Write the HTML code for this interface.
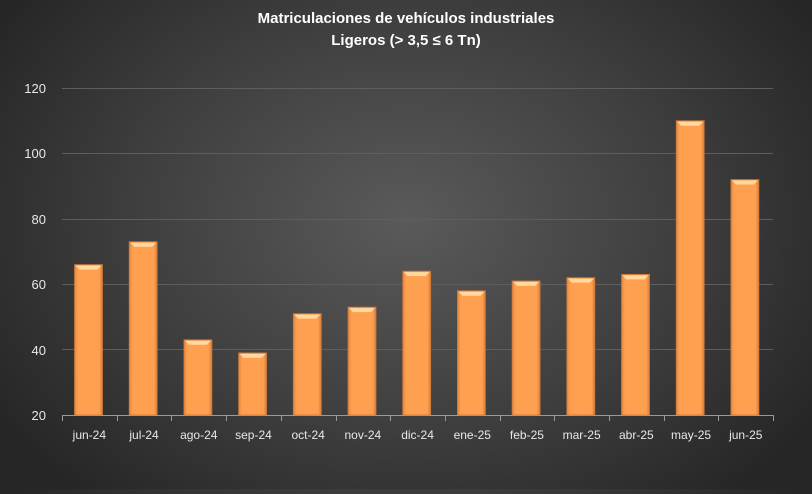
<!DOCTYPE html>
<html><head><meta charset="utf-8"><style>
html,body{margin:0;padding:0}
body{width:812px;height:489px;overflow:hidden;background:radial-gradient(ellipse 60% 75% at 50% 45%,#5a5a5a 0%,#3f3f3f 55%,#262626 100%);font-family:"Liberation Sans",sans-serif}
</style></head><body>
<svg width="812" height="489" xmlns="http://www.w3.org/2000/svg" font-family="Liberation Sans, DejaVu Sans, sans-serif">
<defs>
<linearGradient id="b" x1="0" x2="1" y1="0" y2="0">
<stop offset="0" stop-color="#e08840"/><stop offset="0.12" stop-color="#ff9f50"/><stop offset="0.88" stop-color="#ff9f50"/><stop offset="1" stop-color="#d98038"/>
</linearGradient>
</defs>
<text x="406" y="23" fill="#fff" font-size="15" font-weight="bold" text-anchor="middle">Matriculaciones de vehículos industriales</text>
<text x="406" y="45" fill="#fff" font-size="15" font-weight="bold" text-anchor="middle">Ligeros (&gt; 3,5 ≤ 6 Tn)</text>
<g stroke="#5e5e5e" stroke-width="1">
<line x1="62" x2="773" y1="88.5" y2="88.5"/><line x1="62" x2="773" y1="153.5" y2="153.5"/><line x1="62" x2="773" y1="219.5" y2="219.5"/><line x1="62" x2="773" y1="284.5" y2="284.5"/><line x1="62" x2="773" y1="349.5" y2="349.5"/>
</g>
<g fill="#e8e8e8" font-size="13" text-anchor="end">
<text x="46" y="420">20</text><text x="46" y="355">40</text><text x="46" y="289">60</text><text x="46" y="224">80</text><text x="46" y="158">100</text><text x="46" y="93">120</text>
</g>
<g id="bars"></g>
<line x1="62" x2="773" y1="415.5" y2="415.5" stroke="#9a9a9a"/>
<g id="ticks" stroke="#9a9a9a"></g>
<g id="labels" fill="#e8e8e8" font-size="12" text-anchor="middle"></g>
</svg>
<script>
var v=[66,73,43,39,51,53,64,58,61,62,63,110,92];
var l=["jun-24","jul-24","ago-24","sep-24","oct-24","nov-24","dic-24","ene-25","feb-25","mar-25","abr-25","may-25","jun-25"];
var ns="http://www.w3.org/2000/svg",s=54.7,b=document.getElementById("bars"),t=document.getElementById("ticks"),lb=document.getElementById("labels");
function el(n,a,p){var e=document.createElementNS(ns,n);for(var k in a)e.setAttribute(k,a[k]);p.appendChild(e);return e;}
for(var i=0;i<13;i++){
 var x=62+i*s+12.5,y=415-(v[i]-20)*3.27;
 el("rect",{x:x,y:y,width:28,height:415-y,fill:"url(#b)",stroke:"#c8743a","stroke-width":0.8},b);
 el("polygon",{points:(x+1)+","+(y+1)+" "+(x+27)+","+(y+1)+" "+(x+23)+","+(y+5)+" "+(x+5)+","+(y+5),fill:"#ffd9a0"},b);
 var tx=el("text",{x:62+i*s+s/2,y:439},lb);tx.textContent=l[i];
}
for(var i=0;i<=13;i++){var x=Math.round(62+i*s)+0.5;el("line",{x1:x,x2:x,y1:415,y2:421},t);}
</script>
</body></html>
